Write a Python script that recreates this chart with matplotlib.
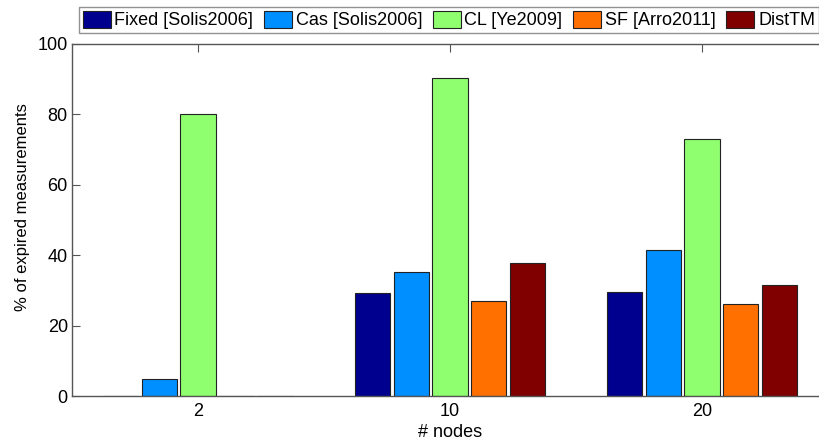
import numpy as np
import matplotlib
matplotlib.use("Agg")
import matplotlib.pyplot as plt

plt.rcParams["font.family"] = ["Liberation Sans", "DejaVu Sans"]
plt.rcParams["font.size"] = 13

# results per network size
node_labels = ["2", "10", "20"]
methods = ["Fixed [Solis2006]", "Cas [Solis2006]", "CL [Ye2009]", "SF [Arro2011]", "DistTM"]
fixed_vals = [0.0, 29.4, 29.6]
cas_vals = [4.7, 35.2, 41.6]
cl_vals = [80.1, 90.2, 73.0]
sf_vals = [0.0, 27.1, 26.1]
disttm_vals = [0.0, 37.8, 31.6]
colors = ["#00008f", "#008fff", "#8fff70", "#ff7000", "#800000"]

series = [fixed_vals, cas_vals, cl_vals, sf_vals, disttm_vals]

fig = plt.figure(figsize=(8.19, 4.44), dpi=100)
# axes runs a bit past the right border of the figure
ax = fig.add_axes([72 / 819, 48 / 444, 756 / 819, 352 / 444])

x = np.arange(1, len(node_labels) + 1)
step = 0.1536
width = 0.14
for i, (vals, name, c) in enumerate(zip(series, methods, colors)):
    ax.bar(x + (i - 2) * step, vals, width, color=c, edgecolor="#222222",
           linewidth=0.8, label=name, zorder=2)

ax.set_xlim(0.5, 3.5)
ax.set_ylim(0, 100)
ax.set_xticks(x)
ax.set_xticklabels(node_labels)
ax.set_yticks([0, 20, 40, 60, 80, 100])
ax.tick_params(direction="in", length=6, width=0.8, color="#555555",
               top=True, right=False, labelsize=13, pad=3)
ax.tick_params(axis="x", pad=5)
for s in ax.spines.values():
    s.set_color("#555555")
    s.set_linewidth(1.0)

ax.set_xlabel("# nodes", fontsize=13, labelpad=3)
ax.set_ylabel("% of expired measurements", fontsize=12)
ax.yaxis.set_label_coords(-0.055, 0.537)

leg = fig.legend(loc="upper left", bbox_to_anchor=(79 / 819, 1 - 7 / 444),
                 ncol=5, frameon=True, fancybox=False, edgecolor="#777777",
                 handlelength=1.55, handleheight=1.1, handletextpad=0.2,
                 columnspacing=0.6, borderpad=0.2, borderaxespad=0,
                 fontsize=13)
leg.get_frame().set_linewidth(1.0)

fig.savefig("out.png", dpi=100)
